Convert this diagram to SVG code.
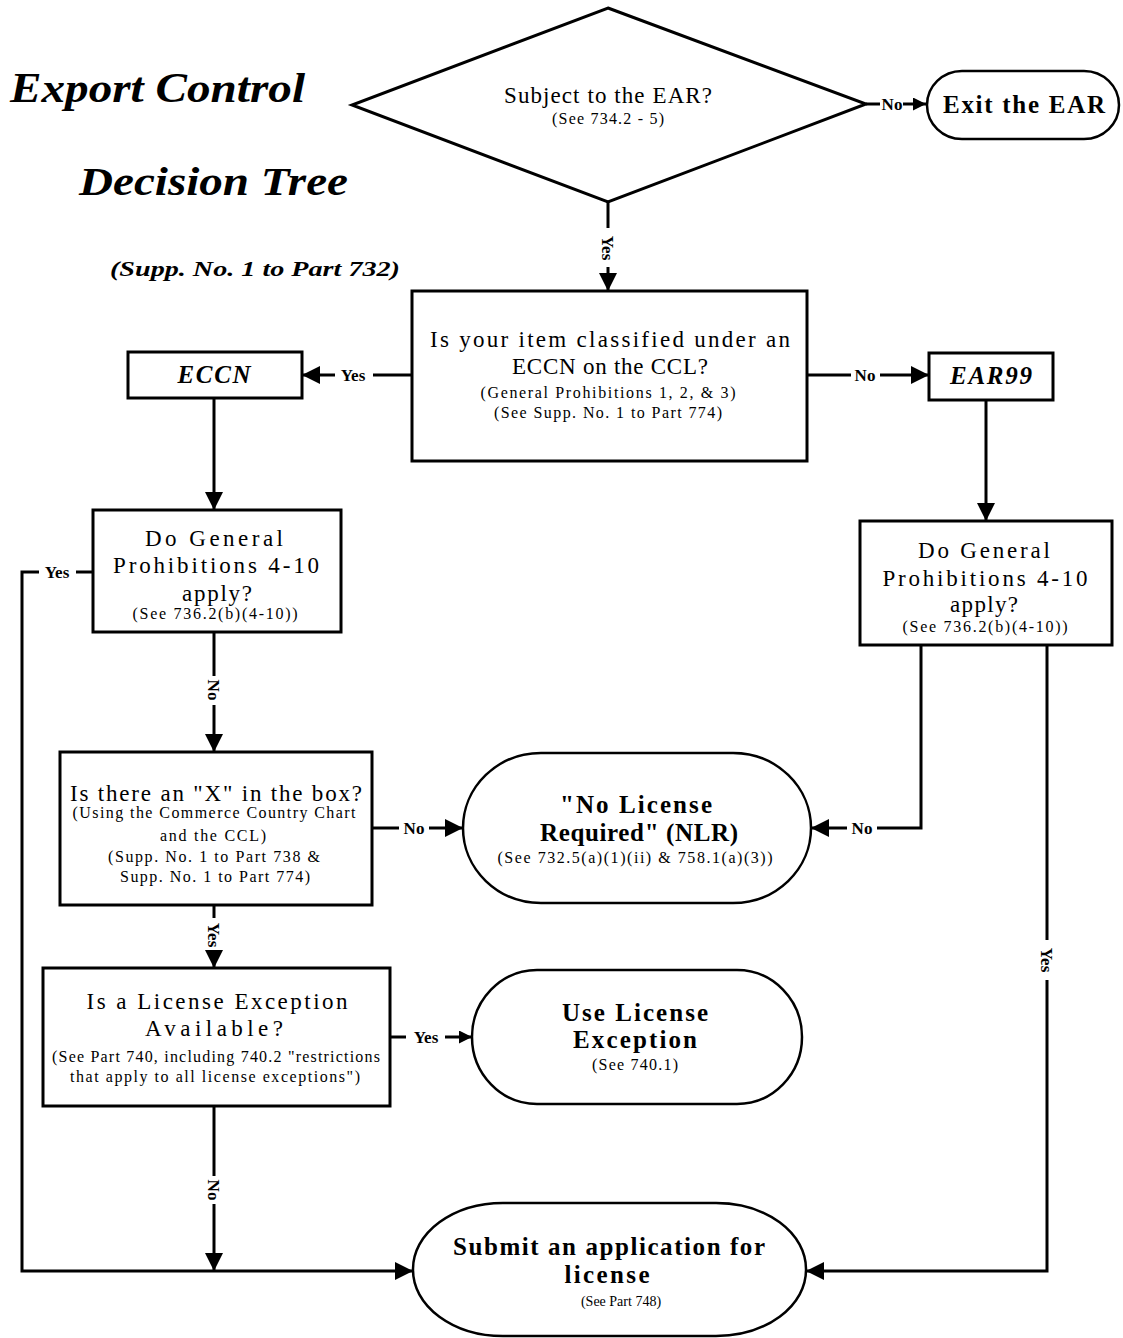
<svg xmlns="http://www.w3.org/2000/svg" width="1123" height="1338" viewBox="0 0 1123 1338">
<style>
  .box { fill: #fff; stroke: #000; stroke-width: 3; }
  .term { fill: #fff; stroke: #000; stroke-width: 2.5; }
  .ln { fill: none; stroke: #000; stroke-width: 3; }
  .t { font-family: "Liberation Serif", "Times New Roman", serif; fill: #000; text-anchor: middle; }
  .q { font-size: 23px; }
  .s { font-size: 16px; }
  .b { font-size: 25px; font-weight: bold; }
  .lab { font-family: "Liberation Serif", serif; font-size: 17px; font-weight: bold; fill: #000; text-anchor: middle; }
  .title { font-family: "Liberation Serif", "Times New Roman", serif; font-weight: bold; font-style: italic; fill: #000; }
</style>
<defs>
  <marker id="ah" viewBox="0 0 10 10" refX="10" refY="5" markerWidth="22" markerHeight="18" markerUnits="userSpaceOnUse" orient="auto">
    <path d="M0,0 L10,5 L0,10 z" fill="#000"/>
  </marker>
  <marker id="ahs" viewBox="0 0 10 10" refX="10" refY="5" markerWidth="16" markerHeight="13" markerUnits="userSpaceOnUse" orient="auto">
    <path d="M0,0 L10,5 L0,10 z" fill="#000"/>
  </marker>
</defs>
<rect width="1123" height="1338" fill="#fff"/>

<g id="title">
  <text class="title" x="10" y="102" font-size="42" textLength="295" lengthAdjust="spacingAndGlyphs">Export Control</text>
  <text class="title" x="79" y="195" font-size="40" textLength="269" lengthAdjust="spacingAndGlyphs">Decision Tree</text>
  <text class="title" x="110" y="276" font-size="22" textLength="290" lengthAdjust="spacingAndGlyphs">(Supp. No. 1 to Part 732)</text>
</g>

<g id="connectors">
  <path class="ln" d="M866,104 H880"/>
  <text class="lab" x="892" y="110">No</text>
  <path class="ln" d="M903,104 H926" marker-end="url(#ahs)"/>
  <path class="ln" d="M608,202 V228"/>
  <text class="lab" transform="translate(602,248) rotate(90)">Yes</text>
  <path class="ln" d="M608,267 V291" marker-end="url(#ah)"/>
  <path class="ln" d="M412,375 H373"/>
  <text class="lab" x="353" y="381">Yes</text>
  <path class="ln" d="M335,375 H302" marker-end="url(#ah)"/>
  <path class="ln" d="M807,375 H851"/>
  <text class="lab" x="865" y="381">No</text>
  <path class="ln" d="M880,375 H929" marker-end="url(#ah)"/>
  <path class="ln" d="M214,398 V510" marker-end="url(#ah)"/>
  <path class="ln" d="M986,400 V521" marker-end="url(#ah)"/>
  <path class="ln" d="M93,572 H76"/>
  <text class="lab" x="57" y="578">Yes</text>
  <path class="ln" d="M39,572 H22 V1271 H413" marker-end="url(#ah)"/>
  <path class="ln" d="M214,632 V676"/>
  <text class="lab" transform="translate(208,690) rotate(90)">No</text>
  <path class="ln" d="M214,705 V752" marker-end="url(#ah)"/>
  <path class="ln" d="M372,828 H399"/>
  <text class="lab" x="414" y="834">No</text>
  <path class="ln" d="M429,828 H463" marker-end="url(#ah)"/>
  <path class="ln" d="M921,645 V828 H877"/>
  <text class="lab" x="862" y="834">No</text>
  <path class="ln" d="M847,828 H811" marker-end="url(#ah)"/>
  <path class="ln" d="M1047,645 V940"/>
  <text class="lab" transform="translate(1041,960) rotate(90)">Yes</text>
  <path class="ln" d="M1047,980 V1271 H806" marker-end="url(#ah)"/>
  <path class="ln" d="M214,905 V918"/>
  <text class="lab" transform="translate(208,935) rotate(90)">Yes</text>
  <path class="ln" d="M214,951 V968" marker-end="url(#ah)"/>
  <path class="ln" d="M390,1037 H406"/>
  <text class="lab" x="426" y="1043">Yes</text>
  <path class="ln" d="M445,1037 H472" marker-end="url(#ahs)"/>
  <path class="ln" d="M214,1106 V1176"/>
  <text class="lab" transform="translate(208,1190) rotate(90)">No</text>
  <path class="ln" d="M214,1204 V1271" marker-end="url(#ah)"/>
</g>

<g id="n-subject">
  <polygon class="box" points="608,8 866,104 608,202 352,105"/>
  <text class="t q" x="608" y="103" textLength="208" lengthAdjust="spacing">Subject to the EAR?</text>
  <text class="t s" x="608" y="124" textLength="112" lengthAdjust="spacing">(See 734.2 - 5)</text>
</g>

<g id="n-exit">
  <rect class="term" x="927" y="71" width="192" height="68" rx="35" ry="34"/>
  <text class="t b" x="1024" y="113" textLength="162" lengthAdjust="spacing">Exit the EAR</text>
</g>

<g id="n-classify">
  <rect class="box" x="412" y="291" width="395" height="170"/>
  <text class="t q" x="610" y="347" textLength="360" lengthAdjust="spacing">Is your item classified under an</text>
  <text class="t q" x="610" y="374" textLength="196" lengthAdjust="spacing">ECCN on the CCL?</text>
  <text class="t s" x="608" y="398" textLength="255" lengthAdjust="spacing">(General Prohibitions 1, 2, &amp; 3)</text>
  <text class="t s" x="608" y="418" textLength="228" lengthAdjust="spacing">(See Supp. No. 1 to Part 774)</text>
</g>

<g id="n-eccn">
  <rect class="box" x="128" y="352" width="174" height="46"/>
  <text class="t b" x="214" y="383" font-style="italic" textLength="73" lengthAdjust="spacing">ECCN</text>
</g>

<g id="n-ear99">
  <rect class="box" x="929" y="353" width="124" height="47"/>
  <text class="t b" x="991" y="384" font-style="italic" textLength="82" lengthAdjust="spacing">EAR99</text>
</g>

<g id="n-gp-left">
  <rect class="box" x="93" y="510" width="248" height="122"/>
  <text class="t q" x="214" y="546" textLength="138" lengthAdjust="spacing">Do General</text>
  <text class="t q" x="216" y="573" textLength="206" lengthAdjust="spacing">Prohibitions 4-10</text>
  <text class="t q" x="217" y="601" textLength="70" lengthAdjust="spacing">apply?</text>
  <text class="t s" x="215" y="619" textLength="165" lengthAdjust="spacing">(See 736.2(b)(4-10))</text>
</g>

<g id="n-gp-right">
  <rect class="box" x="860" y="521" width="252" height="124"/>
  <text class="t q" x="984" y="558" textLength="132" lengthAdjust="spacing">Do General</text>
  <text class="t q" x="985" y="586" textLength="205" lengthAdjust="spacing">Prohibitions 4-10</text>
  <text class="t q" x="984" y="612" textLength="68" lengthAdjust="spacing">apply?</text>
  <text class="t s" x="985" y="632" textLength="165" lengthAdjust="spacing">(See 736.2(b)(4-10))</text>
</g>

<g id="n-xbox">
  <rect class="box" x="60" y="752" width="312" height="153"/>
  <text class="t q" x="216" y="801" textLength="292" lengthAdjust="spacing">Is there an "X" in the box?</text>
  <text class="t s" x="214" y="818" textLength="283" lengthAdjust="spacing">(Using the Commerce Country Chart</text>
  <text class="t s" x="213" y="841" textLength="106" lengthAdjust="spacing">and the CCL)</text>
  <text class="t s" x="214" y="862" textLength="212" lengthAdjust="spacing">(Supp. No. 1 to Part 738 &amp;</text>
  <text class="t s" x="215" y="882" textLength="190" lengthAdjust="spacing">Supp. No. 1 to Part 774)</text>
</g>

<g id="n-nlr">
  <rect class="term" x="463" y="753" width="348" height="150" rx="78" ry="75"/>
  <text class="t b" x="636" y="813" textLength="152" lengthAdjust="spacing">"No License</text>
  <text class="t b" x="639" y="841" textLength="198" lengthAdjust="spacing">Required" (NLR)</text>
  <text class="t s" x="635" y="863" textLength="275" lengthAdjust="spacing">(See 732.5(a)(1)(ii) &amp; 758.1(a)(3))</text>
</g>

<g id="n-le">
  <rect class="box" x="43" y="968" width="347" height="138"/>
  <text class="t q" x="217" y="1009" textLength="261" lengthAdjust="spacing">Is a License Exception</text>
  <text class="t q" x="214" y="1036" textLength="138" lengthAdjust="spacing">Available?</text>
  <text class="t s" x="216" y="1062" textLength="328" lengthAdjust="spacing">(See Part 740, including 740.2 "restrictions</text>
  <text class="t s" x="215" y="1082" textLength="290" lengthAdjust="spacing">that apply to all license exceptions")</text>
</g>

<g id="n-use-le">
  <rect class="term" x="472" y="970" width="330" height="134" rx="65" ry="67"/>
  <text class="t b" x="635" y="1021" textLength="146" lengthAdjust="spacing">Use License</text>
  <text class="t b" x="635" y="1048" textLength="124" lengthAdjust="spacing">Exception</text>
  <text class="t s" x="635" y="1070" textLength="86" lengthAdjust="spacing">(See 740.1)</text>
</g>

<g id="n-submit">
  <rect class="term" x="413" y="1203" width="393" height="133" rx="90" ry="66"/>
  <text class="t b" x="609" y="1255" textLength="312" lengthAdjust="spacing">Submit an application for</text>
  <text class="t b" x="607" y="1283" textLength="85" lengthAdjust="spacing">license</text>
  <text class="t" x="621" y="1306" font-size="14">(See Part 748)</text>
</g>
</svg>
